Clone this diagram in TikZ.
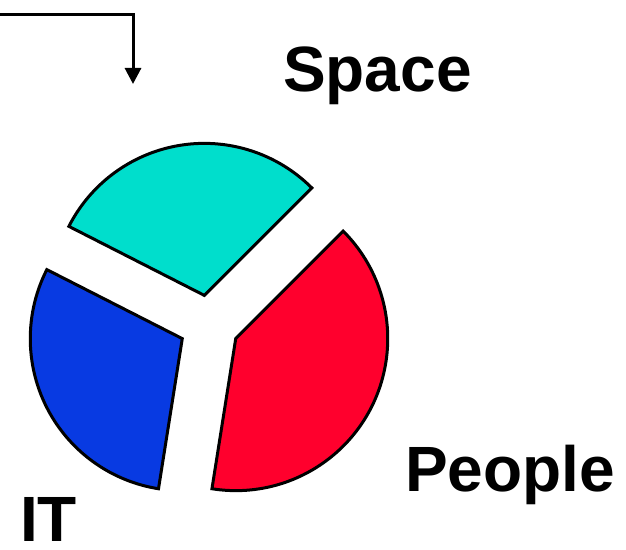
\documentclass[tikz,border=0pt]{standalone}
\usepackage{fontspec}
\setmainfont{Liberation Sans}
\usetikzlibrary{arrows.meta}

\definecolor{pieCyan}{RGB}{0,222,204}
\definecolor{pieBlue}{RGB}{8,58,226}
\definecolor{pieRed}{RGB}{255,0,45}

\begin{document}
\begin{tikzpicture}[x=1pt, y=1pt,
    slice/.style={draw=black, line width=3pt},
    lbl/.style={inner sep=0pt, anchor=base west, font=\fontsize{64}{70}\selectfont\bfseries}
]
\useasboundingbox (0,0) rectangle (626,549);
% exploded pie: people 40%, space 30%, it 30%
\coordinate (ctr) at (209,224);
\foreach \a/\b/\c in {-99/45/pieRed, 45/153/pieCyan, 153/261/pieBlue}
  \filldraw[slice, fill=\c] ([shift={({(\a+\b)/2}:30pt)}]ctr) -- ++(\a:152pt)
    arc[start angle=\a, end angle=\b, radius=152pt] -- cycle;
\node[lbl] (space) at (283,457) {Space};
\node[lbl] (people) at (405,58) {People};
\node[lbl] (it) at (20,8) {IT};
% feed arrow
\coordinate (feed) at (0,534);
\coordinate (drop) at (133,465);
\draw[line width=3pt, -{Triangle[width=16pt,length=16pt]}] (feed) -| (drop);
\end{tikzpicture}
\end{document}
